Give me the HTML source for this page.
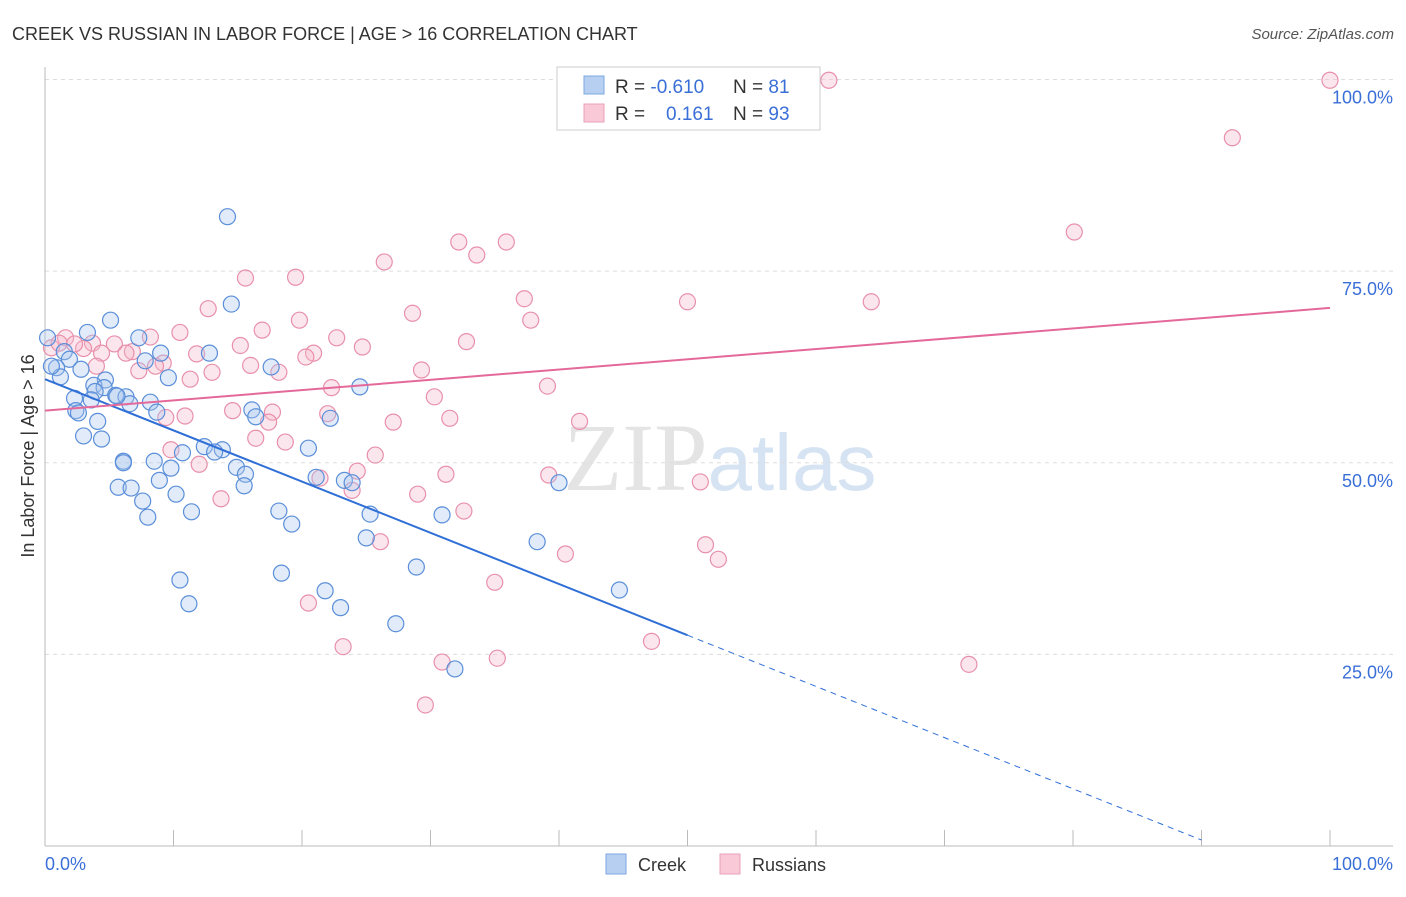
<!DOCTYPE html>
<html><head><meta charset="utf-8">
<style>
body{margin:0;background:#fff;font-family:"Liberation Sans",sans-serif;}
svg text{font-family:"Liberation Sans",sans-serif;}
</style></head><body>
<svg id="chart" width="1406" height="892" xmlns="http://www.w3.org/2000/svg">
<text x="12" y="40" font-size="18" fill="#333">CREEK VS RUSSIAN IN LABOR FORCE | AGE &gt; 16 CORRELATION CHART</text>
<text x="1394" y="39" font-size="15" fill="#555" text-anchor="end" font-style="italic">Source: ZipAtlas.com</text>
<text x="720" y="490" font-size="96" fill="#e4e4e4" text-anchor="middle" font-family="Liberation Serif"><tspan font-family="Liberation Serif">ZIP</tspan><tspan fill="#d5e3f3" font-family="Liberation Sans" font-size="80">atlas</tspan></text>
<g id="grid"></g>
<g id="axes"></g>
<g id="marks"></g>
<g id="legend">
<rect x="557" y="67" width="263" height="63" fill="#fff" stroke="#ccc"/>
<rect x="584" y="76" width="20" height="18" fill="#b7d0f2" stroke="#7da7e0"/>
<rect x="584" y="104" width="20" height="18" fill="#f9c9d8" stroke="#eba0b8"/>
<text x="615" y="93" font-size="19" fill="#333">R = <tspan fill="#3a6fd8">-0.610</tspan></text>
<text x="733" y="93" font-size="19" fill="#333">N = <tspan fill="#3a6fd8">81</tspan></text>
<text x="615" y="120" font-size="19" fill="#333">R = <tspan fill="#3a6fd8" x="666">0.161</tspan></text>
<text x="733" y="120" font-size="19" fill="#333">N = <tspan fill="#3a6fd8">93</tspan></text>
</g>
<text x="34" y="456" font-size="18" fill="#333" text-anchor="middle" transform="rotate(-90 34 456)">In Labor Force | Age &gt; 16</text>
<text x="45" y="870" font-size="18" fill="#3a6fd8">0.0%</text>
<text x="1393" y="870" font-size="18" fill="#3a6fd8" text-anchor="end">100.0%</text>
<g>
<rect x="606" y="854" width="20" height="20" fill="#b7d0f2" stroke="#7da7e0"/>
<text x="638" y="871" font-size="18" fill="#333">Creek</text>
<rect x="720" y="854" width="20" height="20" fill="#f9c9d8" stroke="#eba0b8"/>
<text x="752" y="871" font-size="18" fill="#333">Russians</text>
</g>
</svg>
<script>
const yTicks=[25,50,75,100];
const yTickLabels=["25.0%","50.0%","75.0%","100.0%"];
const xTicks=[0,10,20,30,40,50,60,70,80,90,100];
const creekX=[14.2,14.5,5.1,3.3,0.2,7.3,1.5,9.0,12.8,7.8,1.9,0.9,2.8,17.6,1.2,9.6,4.7,3.8,4.6,24.5,3.9,5.5,6.3,2.3,3.6,6.6,8.2,2.4,8.7,2.6,16.1,16.4,22.2,4.1,3.0,4.4,12.4,13.8,20.5,10.7,13.2,6.1,8.5,6.1,9.8,14.9,15.6,21.1,23.3,23.9,8.9,40.0,5.7,6.7,15.5,10.2,7.6,18.2,11.4,25.3,30.9,8.0,19.2,25.0,38.3,28.9,18.4,10.5,44.7,21.8,11.2,23.0,27.3,31.9,0.5,5.6];
const creekY=[82.1,70.7,68.6,67.0,66.3,66.3,64.5,64.3,64.3,63.3,63.5,62.4,62.2,62.5,61.2,61.1,60.8,60.1,59.8,59.9,59.3,58.8,58.6,58.4,58.2,57.7,57.9,56.8,56.6,56.5,56.9,56.0,55.8,55.4,53.5,53.1,52.1,51.7,51.9,51.3,51.4,50.2,50.2,50.0,49.3,49.4,48.5,48.1,47.7,47.4,47.7,47.4,46.8,46.7,47.0,45.9,45.0,43.7,43.6,43.3,43.2,42.9,42.0,40.2,39.7,36.4,35.6,34.7,33.4,33.3,31.6,31.1,29.0,23.1,62.6,58.7];
const rusX=[59.2,61.0,100,92.4,80.1,32.2,35.9,33.6,26.4,15.6,19.5,37.3,50.0,64.3,12.7,28.6,37.8,19.8,16.9,10.5,8.2,1.6,22.7,3.7,5.4,15.2,32.8,24.7,0.5,3.0,6.8,11.8,4.4,20.9,20.3,9.2,16.0,4.0,7.3,8.6,13.0,18.2,29.3,11.3,22.3,39.1,30.3,14.6,17.7,22.0,10.9,9.4,31.5,17.4,27.1,41.6,16.4,18.7,9.8,25.7,12.0,24.3,31.2,39.2,21.4,51.0,23.9,29.0,13.7,32.6,26.1,51.4,40.5,52.4,35.0,20.5,47.2,23.2,35.2,30.9,71.9,29.6,1.1,2.3,6.3];
const rusY=[99.9,99.9,99.9,92.4,80.1,78.8,78.8,77.1,76.2,74.1,74.2,71.4,71.0,71.0,70.1,69.5,68.6,68.6,67.3,67.0,66.4,66.3,66.3,65.6,65.5,65.3,65.8,65.1,65.0,64.9,64.5,64.2,64.3,64.3,63.8,63.0,62.7,62.6,62.0,62.6,61.8,61.8,62.1,60.9,59.8,60.0,58.6,56.8,56.6,56.4,56.1,55.9,55.8,55.3,55.3,55.4,53.2,52.7,51.7,51.0,49.8,48.9,48.5,48.4,48.0,47.5,46.4,45.9,45.3,43.7,39.7,39.3,38.1,37.4,34.4,31.7,26.7,26.0,24.5,24.0,23.7,18.4,65.6,65.5,64.3];
const creekTrend=[60.9,-0.668];
const rusTrend=[56.8,0.134];

const NS="http://www.w3.org/2000/svg";
const X0=45,X1=1330,Ybot=846,Ytop=79.5;
function sx(v){return X0+(X1-X0)*v/100;}
function sy(v){return Ybot-(Ybot-Ytop)*v/100;}
function mk(tag,attrs,parent){const e=document.createElementNS(NS,tag);for(const k in attrs)e.setAttribute(k,attrs[k]);document.getElementById(parent).appendChild(e);return e;}

yTicks.forEach((t,i)=>{
  const g=mk('line',{x1:X0,x2:1393,y1:sy(t),y2:sy(t),stroke:'#ddd','stroke-dasharray':'4,4'},'grid');
  
  
  const l=mk('text',{x:1393,y:sy(t)+24,'font-size':18,fill:'#3a6fd8','text-anchor':'end'},'grid');
  l.textContent=yTickLabels[i];
  
  
});
const ax=mk('line',{x1:X0,x2:X0,y1:67,y2:Ybot,stroke:'#bbb'},'axes');


const bx=mk('line',{x1:X0,x2:1393,y1:Ybot,y2:Ybot,stroke:'#bbb'},'axes');


xTicks.forEach(t=>{
  const k=mk('line',{x1:sx(t),x2:sx(t),y1:Ybot-16,y2:Ybot,stroke:'#bbb'},'axes');
  
  
});
function dots(xs,ys,fill,stroke,name){
  xs.forEach((x,i)=>{
    const c=mk('circle',{cx:sx(x),cy:sy(ys[i]),r:8,fill:fill,'fill-opacity':0.35,stroke:stroke,'stroke-width':1.2},'marks');
    
    
  });
}
dots(rusX,rusY,'#f7b6ca','#e890ab','russians-point');
dots(creekX,creekY,'#a9c6ef','#5b8fd9','creek-point');
const cl=mk('line',{x1:sx(0),y1:sy(creekTrend[0]),x2:sx(50),y2:sy(creekTrend[0]+creekTrend[1]*50),stroke:'#2f6fd6','stroke-width':2},'marks');


const cd=mk('line',{x1:sx(50),y1:sy(creekTrend[0]+creekTrend[1]*50),x2:sx(90),y2:sy(creekTrend[0]+creekTrend[1]*90),stroke:'#2f6fd6','stroke-width':1,'stroke-dasharray':'6,5'},'marks');


const rl=mk('line',{x1:sx(0),y1:sy(rusTrend[0]),x2:sx(100),y2:sy(rusTrend[0]+rusTrend[1]*100),stroke:'#e4699a','stroke-width':2},'marks');


</script>
</body></html>
